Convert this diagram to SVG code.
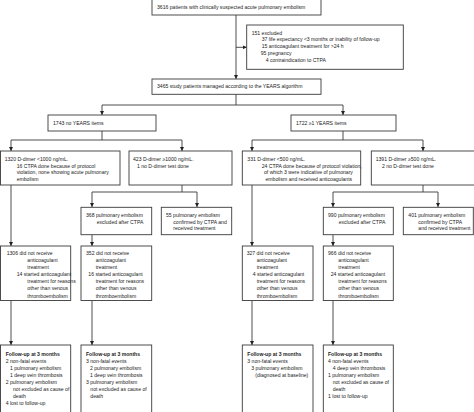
<svg xmlns="http://www.w3.org/2000/svg" width="474" height="412" viewBox="0 0 474 412">
<defs>
<style>
.b{fill:#fff;stroke:#3a3a3a;stroke-width:0.9}
.c{fill:none;stroke:#3a3a3a;stroke-width:0.9}
text{font-family:"Liberation Sans",Arial,sans-serif;font-size:5.1px;fill:#222}
.h{font-weight:bold}
</style>
<marker id="a" markerUnits="userSpaceOnUse" markerWidth="4" markerHeight="4" refX="4" refY="2" orient="auto">
<path d="M0,0 L4,2 L0,4 z" fill="#222"/>
</marker>
</defs>
<rect width="474" height="412" fill="#fff"/>
<g id="connectors">
<path class="c" d="M236,15 V79" marker-end="url(#a)"/>
<path class="c" d="M236,47.3 H246.7" marker-end="url(#a)"/>
<path class="c" d="M236,94 V105 M102,105 H343"/>
<path class="c" d="M102,105 V115" marker-end="url(#a)"/>
<path class="c" d="M343,105 V115" marker-end="url(#a)"/>
<path class="c" d="M102,131 V140 M11,140 H182"/>
<path class="c" d="M11,140 V151" marker-end="url(#a)"/>
<path class="c" d="M182,140 V151" marker-end="url(#a)"/>
<path class="c" d="M343,131 V140 M252,140 H423"/>
<path class="c" d="M252,140 V151" marker-end="url(#a)"/>
<path class="c" d="M423,140 V151" marker-end="url(#a)"/>
<path class="c" d="M182,185 V192 M92,192 H197"/>
<path class="c" d="M92,192 V207" marker-end="url(#a)"/>
<path class="c" d="M197,192 V207" marker-end="url(#a)"/>
<path class="c" d="M423,185 V192 M333,192 H438"/>
<path class="c" d="M333,192 V207" marker-end="url(#a)"/>
<path class="c" d="M438,192 V207" marker-end="url(#a)"/>
<path class="c" d="M11,185 V246" marker-end="url(#a)"/>
<path class="c" d="M92,235 V246" marker-end="url(#a)"/>
<path class="c" d="M252,185 V246" marker-end="url(#a)"/>
<path class="c" d="M333,235 V246" marker-end="url(#a)"/>
<path class="c" d="M11,300.5 V345" marker-end="url(#a)"/>
<path class="c" d="M92,300.5 V345" marker-end="url(#a)"/>
<path class="c" d="M252,300.5 V345" marker-end="url(#a)"/>
<path class="c" d="M333,300.5 V345" marker-end="url(#a)"/>
</g>
<g id="n-total">
<rect class="b" x="152" y="-1" width="169" height="16"/>
<text x="157" y="9">3616 patients with clinically suspected acute pulmonary embolism</text>
</g>
<g id="n-excluded">
<rect class="b" x="246.7" y="25" width="156.6" height="44.3"/>
<text x="251.7" y="34.6">151 excluded</text>
<text x="261.7" y="41.4">37 life expectancy &lt;3 months or inability of follow-up</text>
<text x="261.7" y="48.3">15 anticoagulant treatment for &gt;24 h</text>
<text x="260.7" y="55.2">95 pregnancy</text>
<text x="265.7" y="62.2">4 contraindication to CTPA</text>
</g>
<g id="n-study">
<rect class="b" x="152" y="79" width="169" height="15.3"/>
<text x="157" y="88.3">3465 study patients managed according to the YEARS algorithm</text>
</g>
<g id="n-noyears">
<rect class="b" x="48" y="115" width="108" height="16"/>
<text x="53" y="125">1743 no YEARS items</text>
</g>
<g id="n-years">
<rect class="b" x="291" y="115" width="105" height="16"/>
<text x="296" y="125">1722 ≥1 YEARS items</text>
</g>
<g id="n-1320">
<rect class="b" x="0.5" y="151" width="119.5" height="34"/>
<text x="4.7" y="161">1320 D-dimer &lt;1000 ng/mL.</text>
<text x="16.7" y="167.7">16 CTPA done because of protocol</text>
<text x="16.7" y="174.4">violation, none showing acute pulmonary</text>
<text x="16.7" y="181.1">embolism</text>
</g>
<g id="n-423">
<rect class="b" x="129" y="151" width="103" height="34"/>
<text x="133" y="161">423 D-dimer ≥1000 ng/mL.</text>
<text x="137" y="167.7">1 no D-dimer test done</text>
</g>
<g id="n-331">
<rect class="b" x="242.3" y="151" width="118.4" height="34"/>
<text x="247.3" y="161">331 D-dimer &lt;500 ng/mL.</text>
<text x="261.7" y="167.7">24 CTPA done because of protocol violation,</text>
<text x="264" y="174.4">of which 3 were indicative of pulmonary</text>
<text x="265.5" y="181.1">embolism and received anticoagulants</text>
</g>
<g id="n-1391">
<rect class="b" x="371.3" y="151" width="104" height="34"/>
<text x="375.7" y="161">1391 D-dimer ≥500 ng/mL.</text>
<text x="382" y="167.7">2 no D-dimer test done</text>
</g>
<g id="n-368">
<rect class="b" x="81" y="207.3" width="70.7" height="27.4"/>
<text x="86" y="217">368 pulmonary embolism</text>
<text x="96.7" y="223.7">excluded after CTPA</text>
</g>
<g id="n-55">
<rect class="b" x="161.3" y="207.3" width="70.4" height="27.4"/>
<text x="166" y="217">55 pulmonary embolism</text>
<text x="173.3" y="223.7">confirmed by CTPA and</text>
<text x="173.3" y="230.4">received treatment</text>
</g>
<g id="n-990">
<rect class="b" x="323.3" y="207.3" width="70" height="27.4"/>
<text x="328" y="217">990 pulmonary embolism</text>
<text x="338.7" y="223.7">excluded after CTPA</text>
</g>
<g id="n-401">
<rect class="b" x="403.3" y="207.3" width="70" height="27.4"/>
<text x="408.3" y="217">401 pulmonary embolism</text>
<text x="418.3" y="223.7">confirmed by CTPA</text>
<text x="418.3" y="230.4">and received treatment</text>
</g>
<g id="n-1306">
<rect class="b" x="0.5" y="246" width="70.2" height="54.5"/>
<text x="6.7" y="255.2">1306 did not receive</text>
<text x="27.3" y="262.2">anticoagulant</text>
<text x="27.3" y="269.3">treatment</text>
<text x="16.7" y="276.3">14 started anticoagulant</text>
<text x="27.3" y="283.4">treatment for reasons</text>
<text x="27.3" y="290.4">other than venous</text>
<text x="27.3" y="297.5">thromboembolism</text>
</g>
<g id="n-352">
<rect class="b" x="81" y="246" width="70.7" height="54.5"/>
<text x="86" y="255.2">352 did not receive</text>
<text x="95.7" y="262.2">anticoagulant</text>
<text x="95.7" y="269.3">treatment</text>
<text x="88.3" y="276.3">16 started anticoagulant</text>
<text x="95.7" y="283.4">treatment for reasons</text>
<text x="95.7" y="290.4">other than venous</text>
<text x="95.7" y="297.5">thromboembolism</text>
</g>
<g id="n-327">
<rect class="b" x="242.3" y="246" width="70.7" height="54.5"/>
<text x="246.7" y="255.2">327 did not receive</text>
<text x="256.7" y="262.2">anticoagulant</text>
<text x="256.7" y="269.3">treatment</text>
<text x="252.7" y="276.3">4 started anticoagulant</text>
<text x="256.7" y="283.4">treatment for reasons</text>
<text x="256.7" y="290.4">other than venous</text>
<text x="256.7" y="297.5">thromboembolism</text>
</g>
<g id="n-966">
<rect class="b" x="323.3" y="246" width="70" height="54.5"/>
<text x="328" y="255.2">966 did not receive</text>
<text x="338.3" y="262.2">anticoagulant</text>
<text x="338.3" y="269.3">treatment</text>
<text x="330.7" y="276.3">24 started anticoagulant</text>
<text x="338.3" y="283.4">treatment for reasons</text>
<text x="338.3" y="290.4">other than venous</text>
<text x="338.3" y="297.5">thromboembolism</text>
</g>
<g id="n-fu1">
<rect class="b" x="0.5" y="345" width="70.2" height="72"/>
<text class="h" x="5.7" y="356">Follow-up at 3 months</text>
<text x="5.7" y="363">2 non-fatal events</text>
<text x="10" y="370.1">1 pulmonary embolism</text>
<text x="10" y="377.1">1 deep vein thrombosis</text>
<text x="5.7" y="384.2">2 pulmonary embolism</text>
<text x="13" y="391.2">not excluded as cause of</text>
<text x="13" y="398.3">death</text>
<text x="5.7" y="405.3">4 lost to follow-up</text>
</g>
<g id="n-fu2">
<rect class="b" x="81" y="345" width="70.7" height="72"/>
<text class="h" x="86" y="356">Follow-up at 3 months</text>
<text x="86" y="363">3 non-fatal events</text>
<text x="90" y="370.1">2 pulmonary embolism</text>
<text x="90" y="377.1">1 deep vein thrombosis</text>
<text x="86" y="384.2">3 pulmonary embolism</text>
<text x="90.3" y="391.2">not excluded as cause of</text>
<text x="90.3" y="398.3">death</text>
</g>
<g id="n-fu3">
<rect class="b" x="242.3" y="345" width="70.7" height="72"/>
<text class="h" x="247.3" y="356">Follow-up at 3 months</text>
<text x="247.3" y="363">3 non-fatal events</text>
<text x="251.3" y="370.1">3 pulmonary embolism</text>
<text x="255.3" y="377.1">(diagnosed at baseline)</text>
</g>
<g id="n-fu4">
<rect class="b" x="323.3" y="345" width="70" height="72"/>
<text class="h" x="328" y="356">Follow-up at 3 months</text>
<text x="328" y="363">4 non-fatal events</text>
<text x="332.7" y="370.1">4 deep vein thrombosis</text>
<text x="328" y="377.1">1 pulmonary embolism</text>
<text x="332.7" y="384.2">not excluded as cause of</text>
<text x="332.7" y="391.2">death</text>
<text x="328" y="398.3">1 lost to follow-up</text>
</g>
</svg>
